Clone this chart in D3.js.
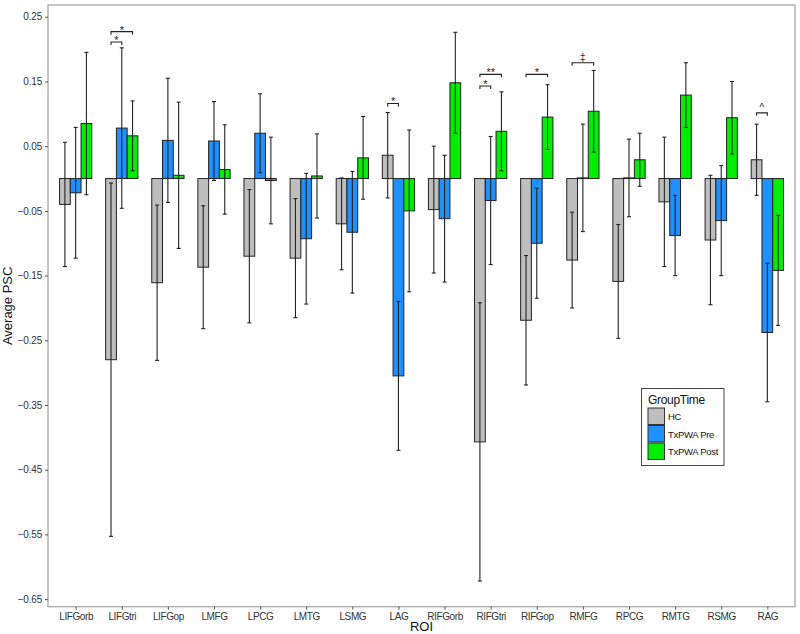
<!DOCTYPE html>
<html>
<head>
<meta charset="utf-8">
<script src="https://cdn.jsdelivr.net/npm/d3@7"></script>
<style>
  html, body { margin: 0; padding: 0; background: #fff; }
  svg { display: block; font-family: "Liberation Sans", Arial, Helvetica, sans-serif; }
</style>
</head>
<body>
<svg id="chart" width="800" height="634"></svg>
<script>
// ---- Data ----
const categories = ["LIFGorb","LIFGtri","LIFGop","LMFG","LPCG","LMTG","LSMG","LAG","RIFGorb","RIFGtri","RIFGop","RMFG","RPCG","RMTG","RSMG","RAG"];
const groups = ["HC","TxPWA Pre","TxPWA Post"];
const hcMean   = [-0.040,-0.280,-0.161,-0.137,-0.120,-0.123,-0.070, 0.036,-0.048,-0.407,-0.219,-0.126,-0.159,-0.036,-0.095, 0.029];
const hcSE     = [ 0.096, 0.273, 0.120, 0.095, 0.103, 0.092, 0.071, 0.066, 0.098, 0.215, 0.100, 0.074, 0.088, 0.100, 0.100, 0.055];
const preMean  = [-0.022, 0.078, 0.059, 0.058, 0.070,-0.093,-0.083,-0.305,-0.062,-0.034,-0.100, 0.001, 0.001,-0.088,-0.065,-0.238];
const preSE    = [ 0.101, 0.124, 0.096, 0.061, 0.061, 0.101, 0.094, 0.115, 0.098, 0.099, 0.085, 0.083, 0.060, 0.062, 0.085, 0.107];
const postMean = [ 0.085, 0.066, 0.005, 0.014,-0.003, 0.004, 0.032,-0.050, 0.148, 0.073, 0.095, 0.104, 0.029, 0.129, 0.094,-0.142];
const postSE   = [ 0.110, 0.054, 0.113, 0.069, 0.067, 0.065, 0.064, 0.125, 0.078, 0.061, 0.050, 0.063, 0.041, 0.050, 0.056, 0.085];
const yTickValues = [0.25,0.15,0.05,-0.05,-0.15,-0.25,-0.35,-0.45,-0.55,-0.65];
// significance brackets: roi, from group, to group, height (data units), label
const sigRoi   = ["LIFGtri","LIFGtri","LAG","RIFGtri","RIFGtri","RIFGop","RMFG","RAG"];
const sigFrom  = ["HC","HC","HC","HC","HC","HC","HC","HC"];
const sigTo    = ["TxPWA Pre","TxPWA Post","TxPWA Pre","TxPWA Pre","TxPWA Post","TxPWA Post","TxPWA Post","TxPWA Pre"];
const sigY     = [0.211, 0.227, 0.116, 0.143, 0.161, 0.161, 0.179, 0.1015];
const sigLabel = ["*","*","*","*","**","*","\u2021","^"];

const colors = {"HC":"#BEBEBE","TxPWA Pre":"#1E90FF","TxPWA Post":"#00EE00"};

// ---- Build rows ----
const meanBy = {"HC":hcMean,"TxPWA Pre":preMean,"TxPWA Post":postMean};
const seBy = {"HC":hcSE,"TxPWA Pre":preSE,"TxPWA Post":postSE};
const rows = [];
categories.forEach((c,i) => groups.forEach(g => rows.push({roi:c, group:g, mean:meanBy[g][i], se:seBy[g][i]})));

// ---- Layout ----
const svg = d3.select("#chart");
const pL = 48, pR = 795, pT = 5, pB = 606.7;

const x = d3.scalePoint().domain(categories).range([pL, pR]).padding(0.6);
const step = x.step();
const xs = d3.scaleBand().domain(groups).range([-0.35*step, 0.35*step]).paddingInner(0);
const y = d3.scaleLinear().domain([-0.6617, 0.2682]).range([pB, pT]);

// panel border
svg.append("rect").attr("x", pL).attr("y", pT).attr("width", pR-pL).attr("height", pB-pT)
  .attr("fill","none").attr("stroke","#a8a8a8").attr("stroke-width",1.3);

// y axis
const yAxis = d3.axisLeft(y).tickValues(yTickValues).tickSize(3).tickPadding(3)
  .tickFormat(d => d3.format(".2f")(d).replace("-", "\u2212"));
const gy = svg.append("g").attr("transform", `translate(${pL},0)`).call(yAxis);
gy.select(".domain").remove();
gy.selectAll(".tick line").attr("stroke","#555");
gy.selectAll(".tick text").attr("fill","#333").style("font-size","10px").style("letter-spacing","-0.2px");

// x axis
const xAxis = d3.axisBottom(x).tickSize(3).tickPadding(3);
const gx = svg.append("g").attr("transform", `translate(0,${pB})`).call(xAxis);
gx.select(".domain").remove();
gx.selectAll(".tick line").attr("stroke","#555");
gx.selectAll(".tick text").attr("fill","#333").style("font-size","10px").style("letter-spacing","-0.4px");

// bars
svg.append("g").selectAll("rect").data(rows).join("rect")
  .attr("x", d => x(d.roi) + xs(d.group))
  .attr("width", xs.bandwidth())
  .attr("y", d => y(Math.max(0, d.mean)))
  .attr("height", d => Math.max(0.01, Math.abs(y(d.mean) - y(0))))
  .attr("fill", d => colors[d.group])
  .attr("stroke", "#222").attr("stroke-width", 1);

// error bars
const eb = svg.append("g").attr("stroke","#222").attr("stroke-width",1.1);
rows.forEach(d => {
  const cx = x(d.roi) + xs(d.group) + xs.bandwidth()/2;
  const y1 = y(d.mean + d.se), y2 = y(d.mean - d.se);
  eb.append("line").attr("x1",cx).attr("x2",cx).attr("y1",y1).attr("y2",y2);
  eb.append("line").attr("x1",cx-2).attr("x2",cx+2).attr("y1",y1).attr("y2",y1);
  eb.append("line").attr("x1",cx-2).attr("x2",cx+2).attr("y1",y2).attr("y2",y2);
});

// significance brackets
const sg = svg.append("g");
sigRoi.forEach((r,i) => {
  const xa = x(r) + xs(sigFrom[i]) + xs.bandwidth()/2;
  const xb = x(r) + xs(sigTo[i]) + xs.bandwidth()/2;
  const yy = y(sigY[i]);
  sg.append("path").attr("d", `M${xa},${yy+3}V${yy}H${xb}V${yy+3}`)
    .attr("fill","none").attr("stroke","#222").attr("stroke-width",1.1);
  const lab = sigLabel[i];
  const isStar = lab.indexOf("*") >= 0;
  sg.append("text").attr("x",(xa+xb)/2).attr("y", isStar ? yy+2 : yy-2)
    .attr("text-anchor","middle").style("font-size", isStar ? "11px" : "10px").attr("fill","#222").text(lab);
});

// axis titles
svg.append("text").attr("x", (pL+pR)/2).attr("y", 631).attr("text-anchor","middle")
  .style("font-size","13px").attr("fill","#111").text("ROI");
svg.append("text").attr("transform", `translate(12,${(pT+pB)/2}) rotate(-90)`).attr("text-anchor","middle")
  .style("font-size","13px").attr("fill","#111").text("Average PSC");

// legend
const lg = svg.append("g").attr("transform","translate(641.5,388.5)");
lg.append("rect").attr("width",82.5).attr("height",77).attr("fill","#fff").attr("stroke","#444").attr("stroke-width",1);
lg.append("text").attr("x",6.5).attr("y",15).style("font-size","12px").style("letter-spacing","-0.3px").attr("fill","#111").text("GroupTime");
groups.forEach((g,i) => {
  lg.append("rect").attr("x",6.5).attr("y",19.5 + i*17.5).attr("width",16.5).attr("height",16.5)
    .attr("fill",colors[g]).attr("stroke","#333").attr("stroke-width",1);
  lg.append("text").attr("x",26.5).attr("y",19.5 + i*17.5 + 12).style("font-size","9.5px").style("letter-spacing","-0.3px").attr("fill","#111").text(g);
});
</script>
</body>
</html>
